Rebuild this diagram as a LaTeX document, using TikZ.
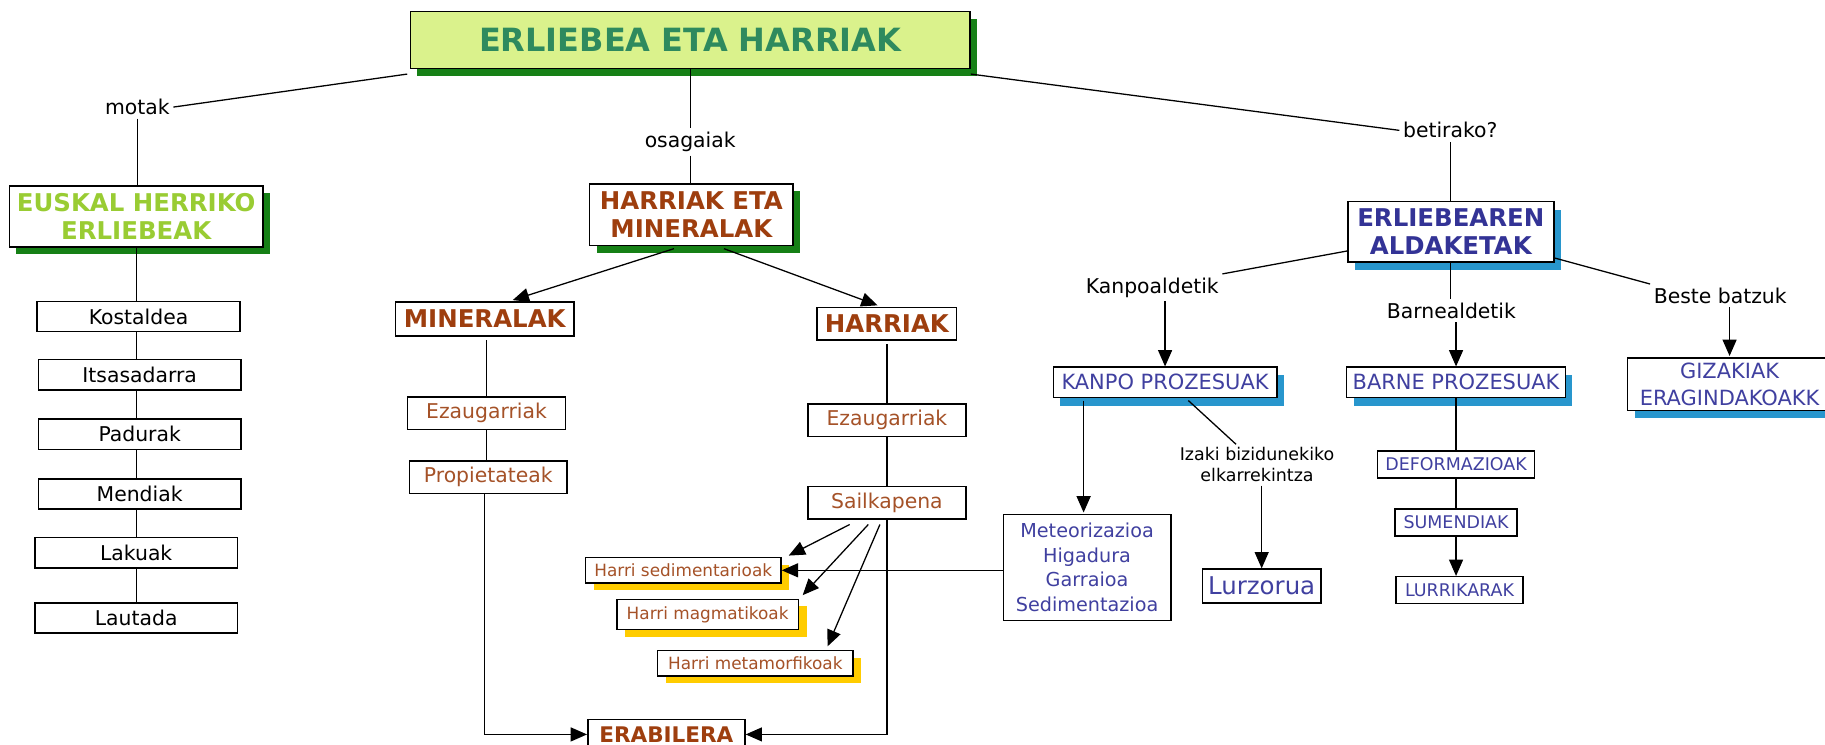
\documentclass[tikz,border=0pt]{standalone}
\usepackage{fontspec}
\setmainfont{DejaVu Sans}
\usetikzlibrary{arrows.meta,shadows,calc}
\definecolor{limefill}{RGB}{218,242,140}
\definecolor{titlegreen}{RGB}{46,138,94}
\definecolor{shgreen}{RGB}{22,128,22}
\definecolor{lgreen}{RGB}{153,204,51}
\definecolor{brn}{RGB}{158,62,14}
\definecolor{lbrn}{RGB}{165,82,40}
\definecolor{nvy}{RGB}{51,51,150}
\definecolor{lnvy}{RGB}{64,64,160}
\definecolor{shblue}{RGB}{40,150,205}
\definecolor{shyellow}{RGB}{255,204,0}
\tikzset{
  box/.style={draw=black, line width=1.3pt, fill=white, inner sep=0pt, align=center},
  gsh/.style={general shadow={fill=shgreen, shadow xshift=6pt, shadow yshift=-6pt}},
  bsh/.style={general shadow={fill=shblue, shadow xshift=6pt, shadow yshift=-7pt}},
  ysh/.style={general shadow={fill=shyellow, shadow xshift=7pt, shadow yshift=-6pt}},
  lbl/.style={inner sep=3pt, align=center, font=\fontsize{17.5}{20}\selectfont},
  ln/.style={line width=1.1pt, draw=black},
  arr/.style={ln, -{Triangle[length=14pt,width=12pt]}},
  fB/.style={font=\fontsize{21}{24.5}\selectfont\bfseries},
  fN/.style={font=\fontsize{17.5}{20}\selectfont},
  fS/.style={font=\fontsize{14.5}{17}\selectfont},
  fK/.style={font=\fontsize{18}{22}\selectfont},
  fD/.style={font=\fontsize{15}{18}\selectfont},
}
\begin{document}
\begin{tikzpicture}[x=1pt,y=-1pt]
\useasboundingbox (0,0) rectangle (1568,640);
% top
\node[box, gsh, fill=limefill, minimum width=481pt, minimum height=49pt, text=titlegreen,
      font=\fontsize{27.5}{32}\selectfont\bfseries] (title) at (593,34.5) {ERLIEBEA ETA HARRIAK};
% left column
\node[lbl] (motak) at (118,92) {motak};
\node[box, gsh, fB, text=lgreen, minimum width=218pt, minimum height=52pt] (eusk) at (117,186) {EUSKAL HERRIKO\\ERLIEBEAK};
\node[box, fN, minimum width=174pt, minimum height=26pt] (kost) at (119,272) {Kostaldea};
\node[box, fN, minimum width=174pt, minimum height=26pt] (itsa) at (120,322) {Itsasadarra};
\node[box, fN, minimum width=174pt, minimum height=26pt] (padu) at (120,373) {Padurak};
\node[box, fN, minimum width=174pt, minimum height=26pt] (mend) at (120,424.5) {Mendiak};
\node[box, fN, minimum width=174pt, minimum height=26pt] (laku) at (117,475) {Lakuak};
\node[box, fN, minimum width=174pt, minimum height=26pt] (laut) at (117,531) {Lautada};
% middle
\node[lbl] (osag) at (593,122) {osagaiak};
\node[box, gsh, fB, text=brn, minimum width=175pt, minimum height=53pt] (harmin) at (594,184.5) {HARRIAK ETA\\MINERALAK};
\node[box, fB, text=brn, minimum width=153pt, minimum height=29pt] (miner) at (416.5,274) {MINERALAK};
\node[box, fB, text=brn, minimum width=120pt, minimum height=28pt] (harri) at (762,278) {HARRIAK};
\node[box, fN, text=lbrn, minimum width=136pt, minimum height=28pt] (ezau1) at (418,355) {Ezaugarriak};
\node[box, fN, text=lbrn, minimum width=135pt, minimum height=28pt] (prop) at (419.5,410) {Propietateak};
\node[box, fN, text=lbrn, minimum width=136pt, minimum height=28pt] (ezau2) at (762,361) {Ezaugarriak};
\node[box, fN, text=lbrn, minimum width=136pt, minimum height=28pt] (sail) at (762,432) {Sailkapena};
\node[box, ysh, fS, text=lbrn, minimum width=168pt, minimum height=22pt] (hsed) at (587,490) {Harri sedimentarioak};
\node[box, ysh, fS, text=lbrn, minimum width=156pt, minimum height=26pt] (hmag) at (608,528) {Harri magmatikoak};
\node[box, ysh, fS, text=lbrn, minimum width=168pt, minimum height=22pt] (hmet) at (649,570) {Harri metamorfikoak};
\node[box, text=brn, font=\fontsize{18.5}{22}\selectfont\bfseries, minimum width=135pt, minimum height=26pt] (erab) at (572.5,631) {ERABILERA};
% right
\node[lbl] (beti) at (1246,112) {betirako?};
\node[box, bsh, fB, text=nvy, minimum width=177pt, minimum height=52pt] (erl) at (1246.5,199) {ERLIEBEAREN\\ALDAKETAK};
\node[lbl] (kanpol) at (990,247) {Kanpoaldetik};
\node[lbl] (barnel) at (1247,267) {Barnealdetik};
\node[lbl] (beste) at (1478,254) {Beste batzuk};
\node[box, bsh, fK, text=lnvy, minimum width=192pt, minimum height=26pt] (kanpo) at (1001,328.5) {KANPO PROZESUAK};
\node[box, bsh, fK, text=lnvy, minimum width=188pt, minimum height=26pt] (barne) at (1251,328.5) {BARNE PROZESUAK};
\node[box, bsh, text=lnvy, font=\fontsize{18}{23}\selectfont, minimum width=175pt, minimum height=45pt] (giza) at (1486,330) {GIZAKIAK\\ERAGINDAKOAKK};
\node[box, text=lnvy, font=\fontsize{16.5}{21}\selectfont, minimum width=144pt, minimum height=91pt] (meteo) at (934,487.5) {Meteorizazioa\\Higadura\\Garraioa\\Sedimentazioa};
\node[inner sep=3pt, align=center, font=\fontsize{15}{18.5}\selectfont] (izaki) at (1080,399) {Izaki bizidunekiko\\elkarrekintza};
\node[box, text=lnvy, font=\fontsize{21}{24}\selectfont, minimum width=102pt, minimum height=29pt] (lurz) at (1084,503.5) {Lurzorua};
\node[box, fD, text=lnvy, minimum width=135pt, minimum height=23pt] (defor) at (1251,399) {DEFORMAZIOAK};
\node[box, fD, text=lnvy, minimum width=105pt, minimum height=23pt] (sumen) at (1251,449) {SUMENDIAK};
\node[box, fD, text=lnvy, minimum width=109pt, minimum height=23pt] (lurri) at (1254,507) {LURRIKARAK};
% connectors left
\draw[ln] ($(title.south west)+(-2,4)$) -- (motak.east);
\draw[ln] (motak.south) -- (motak.south |- eusk.north);
\draw[ln] (eusk.south) -- (eusk.south |- kost.north);
\draw[ln] (kost.south -| eusk.south) -- (eusk.south |- itsa.north);
\draw[ln] (itsa.south -| eusk.south) -- (eusk.south |- padu.north);
\draw[ln] (padu.south -| eusk.south) -- (eusk.south |- mend.north);
\draw[ln] (mend.south -| eusk.south) -- (eusk.south |- laku.north);
\draw[ln] (laku.south -| eusk.south) -- (eusk.south |- laut.north);
% connectors middle
\draw[ln] (title.south) -- (osag.north);
\draw[ln] (osag.south) -- (osag.south |- harmin.north);
\draw[arr] ($(harmin.south)+(-15,2)$) -- ($(miner.north)+(24,-1)$);
\draw[arr] ($(harmin.south)+(28,2)$) -- ($(harri.north)+(-8,-1)$);
\draw[ln] ($(ezau1.north |- miner.south)+(0,3)$) -- (ezau1.north);
\draw[ln] (ezau1.south) -- (ezau1.south |- prop.north);
\draw[arr] ($(prop.south)+(-3,0)$) |- (erab.west);
\draw[ln] ($(harri.south)+(0,3)$) -- (harri.south |- ezau2.north);
\draw[ln] (ezau2.south) -- (ezau2.south |- sail.north);
\draw[arr] (sail.south) |- (erab.east);
\draw[arr] ($(sail.south)+(-32,4)$) -- ($(hsed.north east)+(6,-1)$);
\draw[arr] ($(sail.south)+(-16,4)$) -- ($(hmag.north east)+(3,-3)$);
\draw[arr] ($(sail.south)+(-6,4)$) -- ($(hmet.north)+(62,-3)$);
\draw[arr] (meteo.west |- hsed.east) -- (hsed.east);
% connectors right
\draw[ln] ($(title.south east)+(0,4)$) -- (beti.west);
\draw[ln] (beti.south) -- (beti.south |- erl.north);
\draw[ln] ($(erl.south west)+(0,-10)$) -- (kanpol.north east);
\draw[arr] (kanpo.north |- kanpol.south) -- (kanpo.north);
\draw[ln] (erl.south) -- (erl.south |- barnel.north);
\draw[arr] (barnel.south -| barne.north) -- (barne.north);
\draw[ln] ($(erl.south east)+(0,-4)$) -- (beste.north west);
\draw[arr] ($(beste.south)+(8,0)$) -- ($(giza.north)+(0,-1)$);
\draw[arr] ($(meteo.north |- kanpo.south)+(-3,2)$) -- ($(meteo.north)+(-3,-1)$);
\draw[ln] ($(kanpo.south)+(20,2)$) -- ($(izaki.north)+(-18,1)$);
\draw[arr] ($(izaki.south)+(4,0)$) -- (lurz.north);
\draw[ln] (barne.south) -- (barne.south |- defor.north);
\draw[ln] (defor.south) -- (defor.south |- sumen.north);
\draw[arr] (sumen.south) -- (sumen.south |- lurri.north);
\end{tikzpicture}
\end{document}
